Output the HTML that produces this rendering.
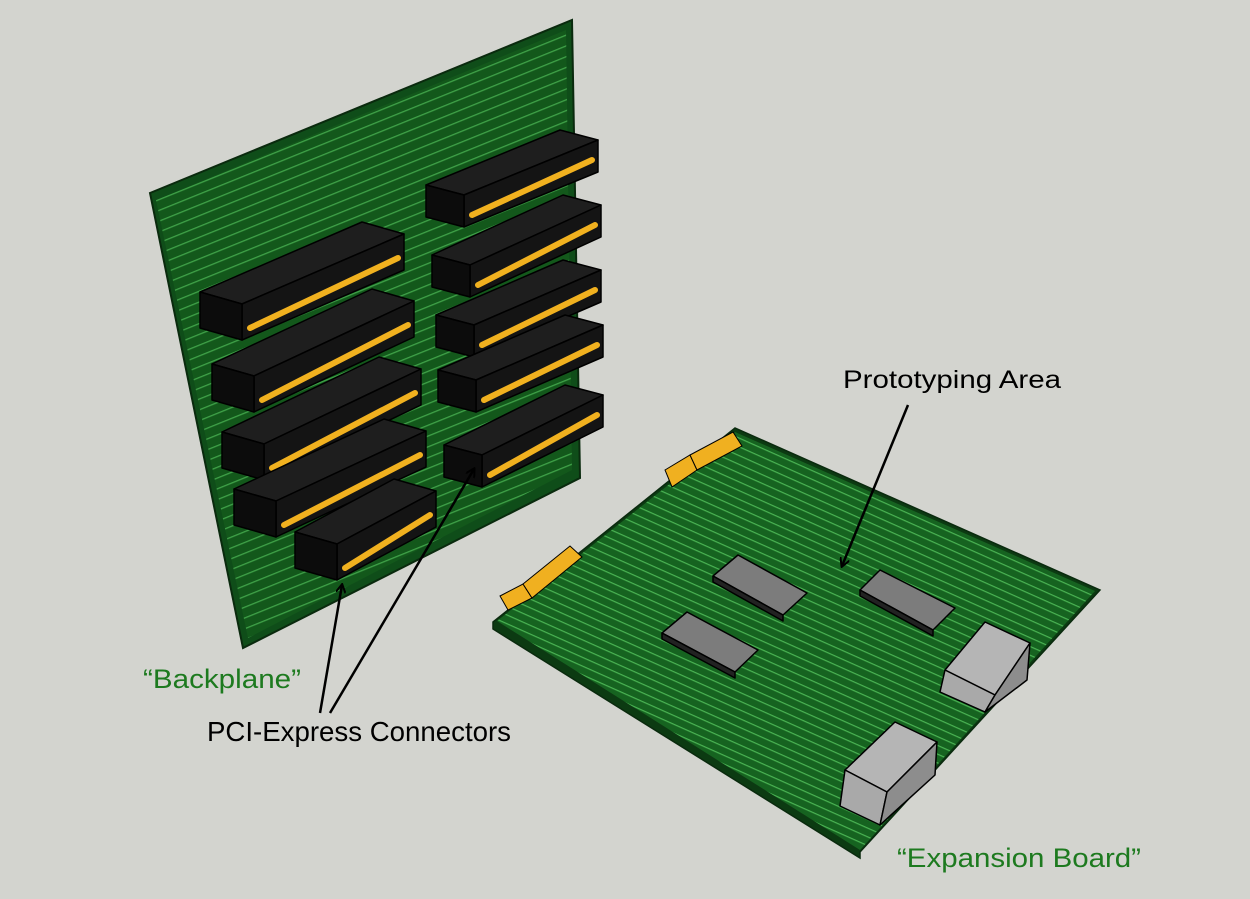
<!DOCTYPE html>
<html><head><meta charset="utf-8"><style>
html,body{margin:0;padding:0;background:#d3d4cf;}
svg{display:block}
text{font-family:"Liberation Sans",sans-serif;}
</style></head><body>
<svg id="s" width="1250" height="899" viewBox="0 0 1250 899" xmlns="http://www.w3.org/2000/svg">
<defs>
<pattern id="tb" width="10" height="10" patternUnits="userSpaceOnUse" patternTransform="rotate(-22)">
<rect width="10" height="10" fill="#16601f"/><rect y="4" width="10" height="1.3" fill="#4dbb57"/>
</pattern>
<pattern id="te" width="8" height="8" patternUnits="userSpaceOnUse" patternTransform="rotate(24)">
<rect width="8" height="8" fill="#186a24"/><rect y="3" width="8" height="1.2" fill="#55c860"/>
</pattern>
<marker id="ah" markerWidth="10" markerHeight="10" refX="8" refY="5" orient="auto" markerUnits="userSpaceOnUse">
<path d="M0,0 L9,5 L0,10" fill="none" stroke="#000" stroke-width="2"/>
</marker>
</defs>
<rect width="1250" height="899" fill="#d3d4cf"/>

<polygon points="150,193 572,20 580,478 243,648" fill="#0f4d19" stroke="#0a2a0e" stroke-width="2"/>
<polygon points="156,200 566,30 572,470 248,638" fill="url(#tb)"/>
<polygon points="156,200 566,30 572,470 248,638" fill="#0a3a10" opacity="0.2"/>

<g id="conn" stroke="#000" stroke-width="1.5" stroke-linejoin="round"></g>

<polygon points="493,622 735,428 1100,590 860,852 860,858 493,629" fill="#0c3a12" stroke="#0a2a0e" stroke-width="1.5"/>
<polygon points="497,621 735,432 1095,591 860,850" fill="url(#te)"/>
<polygon points="497,621 735,432 1095,591 860,850" fill="#0b3a10" opacity="0.15"/>
<g stroke="#000" stroke-width="1">
<polygon points="665,470 690,455 697,470 672,487" fill="#f0b020"/>
<polygon points="690,455 733,432 742,446 697,470" fill="#f0b020"/>
<polygon points="500,596 523,584 532,598 508,610" fill="#f0b020"/>
<polygon points="523,584 570,546 582,557 532,598" fill="#f0b020"/>
</g>

<g stroke="#000" stroke-width="1.5" stroke-linejoin="round">
<polygon points="713,576 738,555 807,593 783,615" fill="#7c7c7c"/>
<polygon points="713,576 783,615 783,621 713,582" fill="#222"/>
<polygon points="860,590 880,570 955,608 933,630" fill="#7c7c7c"/>
<polygon points="860,590 933,630 933,636 860,596" fill="#222"/>
<polygon points="662,633 687,612 758,650 735,672" fill="#7c7c7c"/>
<polygon points="662,633 735,672 735,678 662,639" fill="#222"/>
</g>
<g stroke="#000" stroke-width="1.5" stroke-linejoin="round">
<polygon points="945,670 985,622 1030,643 995,695" fill="#b5b5b5"/>
<polygon points="945,670 995,695 985,712 940,692" fill="#a9a9a9"/>
<polygon points="995,695 1030,643 1027,680 985,712" fill="#8d8d8d"/>
<polygon points="845,770 895,722 937,742 887,792" fill="#b5b5b5"/>
<polygon points="845,770 887,792 880,825 840,806" fill="#a9a9a9"/>
<polygon points="887,792 937,742 935,775 880,825" fill="#8d8d8d"/>
</g>

<g stroke="#000" stroke-width="2.5" fill="none">
<line x1="320" y1="713" x2="342" y2="585" marker-end="url(#ah)"/>
<line x1="330" y1="713" x2="474" y2="469" marker-end="url(#ah)"/>
<line x1="908" y1="405" x2="842" y2="566" marker-end="url(#ah)"/>
</g>

<text x="843" y="388" font-size="25" fill="#000" textLength="218" lengthAdjust="spacingAndGlyphs">Prototyping Area</text>
<text x="143" y="688" font-size="27" fill="#1d7a1f" textLength="158" lengthAdjust="spacingAndGlyphs">“Backplane”</text>
<text x="207" y="741" font-size="28" fill="#000" textLength="304" lengthAdjust="spacingAndGlyphs">PCI-Express Connectors</text>
<text x="897" y="867" font-size="27" fill="#1d7a1f" textLength="244" lengthAdjust="spacingAndGlyphs">“Expansion Board”</text>
</svg>
<script>
(function(){
var g=document.getElementById('conn'),NS='http://www.w3.org/2000/svg';
function poly(pts,fill){var p=document.createElementNS(NS,'polygon');p.setAttribute('points',pts.map(function(a){return a[0]+','+a[1]}).join(' '));p.setAttribute('fill',fill);g.appendChild(p);}
function box(a,b,h,up,d){
 var FL=[a[0]-8,a[1]-up],FR=[b[0]+6,b[1]-up];
 var BL=[FL[0]+d[0],FL[1]+d[1]],BR=[FR[0]+d[0],FR[1]+d[1]];
 poly([BL,BR,FR,FL],'#1e1e1e');
 poly([FL,FR,[FR[0],FR[1]+h],[FL[0],FL[1]+h]],'#141414');
 poly([BL,FL,[FL[0],FL[1]+h],[BL[0],BL[1]+h]],'#0c0c0c');
 var l=document.createElementNS(NS,'line');
 l.setAttribute('x1',a[0]);l.setAttribute('y1',a[1]);l.setAttribute('x2',b[0]);l.setAttribute('y2',b[1]);
 l.setAttribute('stroke','#f1b11f');l.setAttribute('stroke-width','6');l.setAttribute('stroke-linecap','round');g.appendChild(l);
}
var R=[[[472,215],[592,160]],[[478,285],[595,225]],[[482,345],[595,290]],[[484,400],[597,345]],[[490,475],[597,415]]];
R.forEach(function(s){box(s[0],s[1],32,20,[-38,-10]);});
var L=[[[250,328],[398,258]],[[262,400],[408,325]],[[272,468],[415,393]],[[284,525],[420,455]],[[345,568],[430,515]]];
L.forEach(function(s){box(s[0],s[1],36,24,[-42,-12]);});
})();
</script>
</body></html>
